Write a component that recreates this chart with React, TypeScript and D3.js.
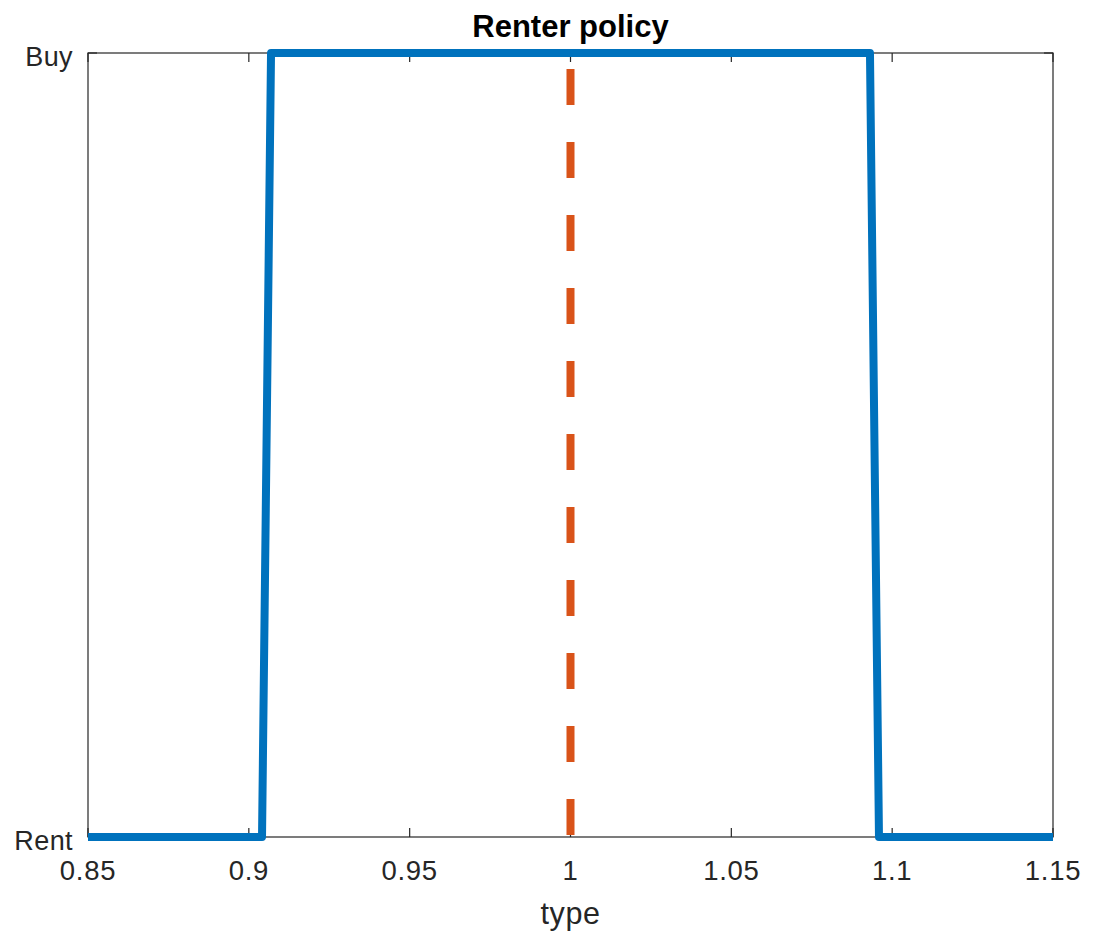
import React from "react";
import * as d3 from "d3";

const typeGrid = [0.85, 0.9041, 0.9069, 1.0931, 1.0959, 1.15];
const policy = [0, 0, 1, 1, 0, 0];
const thresholdType = [1];
const xTicks = [0.85, 0.9, 0.95, 1, 1.05, 1.1, 1.15];
const yTicks = [0, 1];
const yTickLabels = ["Rent", "Buy"];
const titleText = "Renter policy";
const xLabelText = "type";

const W = 1095;
const H = 941;
const M = { left: 88, right: 1053, top: 53, bottom: 837 };
const AX = "#262626";
const FONT = "'Liberation Sans', Arial, Helvetica, sans-serif";

export default function App() {
  const x = d3.scaleLinear().domain([0.85, 1.15]).range([M.left, M.right]);
  const y = d3.scaleLinear().domain([0, 1]).range([M.bottom, M.top]);
  const line = d3
    .line<number>()
    .x((_, i) => x(typeGrid[i]))
    .y((d) => y(d));
  const tickLen = 9;
  const fmt = (v: number) => String(+v.toFixed(2));
  return (
    <svg
      width={W}
      height={H}
      style={{ position: "absolute", left: 0, top: 0, background: "#fff" }}
      fontFamily={FONT}
    >
      <rect x={0} y={0} width={W} height={H} fill="#fff" />
      <rect
        x={M.left}
        y={M.top}
        width={M.right - M.left}
        height={M.bottom - M.top}
        fill="none"
        stroke={AX}
        strokeWidth={1.2}
      />
      {xTicks.map((t) => (
        <g key={"xt" + t}>
          <line x1={x(t)} x2={x(t)} y1={M.bottom} y2={M.bottom - tickLen} stroke={AX} strokeWidth={1.2} />
          <line x1={x(t)} x2={x(t)} y1={M.top} y2={M.top + tickLen} stroke={AX} strokeWidth={1.2} />
          <text
            x={x(t)}
            y={880}
            textAnchor="middle"
            fontSize={27.5}
            letterSpacing={0.7}
            fill={AX}
          >
            {fmt(t)}
          </text>
        </g>
      ))}
      {yTicks.map((t, i) => (
        <g key={"yt" + t}>
          <line x1={M.left} x2={M.left + tickLen} y1={y(t)} y2={y(t)} stroke={AX} strokeWidth={1.2} />
          <line x1={M.right} x2={M.right - tickLen} y1={y(t)} y2={y(t)} stroke={AX} strokeWidth={1.2} />
          <text
            x={M.left - 15}
            y={y(t) + 12.5}
            textAnchor="end"
            fontSize={27}
            letterSpacing={0.4}
            fill={AX}
          >
            {yTickLabels[i]}
          </text>
        </g>
      ))}
      {thresholdType.map((t) => (
        <line
          key={"th" + t}
          x1={x(t)}
          x2={x(t)}
          y1={y(1)}
          y2={y(0)}
          stroke="#D95319"
          strokeWidth={8}
          strokeDasharray="36 37"
          strokeDashoffset={57}
        />
      ))}
      <path
        d={line(policy) || ""}
        fill="none"
        stroke="#0072BD"
        strokeWidth={8}
        strokeLinejoin="round"
      />
      <text
        x={(M.left + M.right) / 2}
        y={37}
        textAnchor="middle"
        fontSize={31}
        fontWeight="bold"
        fill="#000"
      >
        {titleText}
      </text>
      <text
        x={(M.left + M.right) / 2}
        y={924}
        textAnchor="middle"
        fontSize={30.5}
        letterSpacing={0.6}
        fill={AX}
      >
        {xLabelText}
      </text>
    </svg>
  );
}
